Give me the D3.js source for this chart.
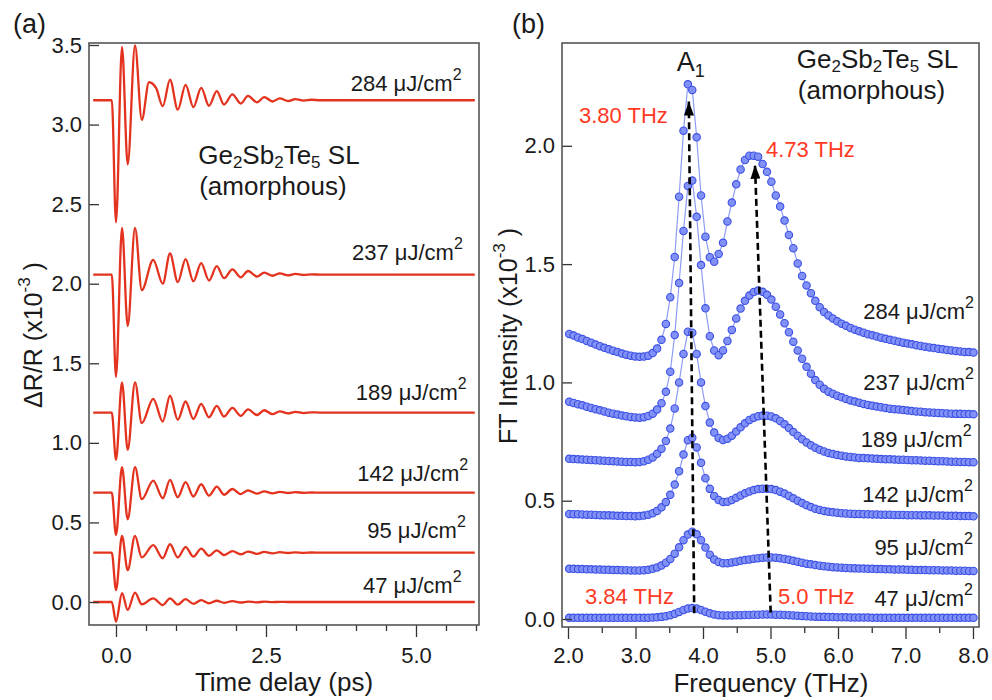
<!DOCTYPE html>
<html>
<head>
<meta charset="utf-8">
<script src="https://cdn.jsdelivr.net/npm/d3@7"></script>
<style>
  body { margin: 0; background: #fff; }
  svg { font-family: "Liberation Sans", Arial, Helvetica, sans-serif; }
</style>
</head>
<body>
<script>
// ---------- panel (a): time-domain traces (extrema) ----------
const fluences = ["284", "237", "189", "142", "95", "47"];

const time284 = [-0.38, -0.07, 0, 0.1, 0.195, 0.317, 0.43, 0.55, 0.667, 0.78, 0.9, 1.03, 1.16, 1.29, 1.42, 1.55,
  1.68, 1.8, 1.94, 2.08, 2.2, 2.35, 2.47, 2.61, 2.73, 2.87, 2.99, 3.13, 3.26, 3.4, 5.98];
const timeA = [-0.38, -0.07, 0, 0.1, 0.195, 0.317, 0.43, 0.62, 0.78, 0.9, 1.03, 1.16, 1.29, 1.42, 1.55,
  1.68, 1.8, 1.94, 2.08, 2.2, 2.35, 2.47, 2.61, 2.73, 2.87, 2.99, 3.13, 3.26, 3.4, 5.98];

const dR284 = [3.153, 3.153, 2.386, 3.488, 2.75, 3.497, 3.03, 3.266, 3.23, 3.115, 3.283, 3.094, 3.25, 3.11, 3.23, 3.118,
  3.21, 3.126, 3.19, 3.132, 3.18, 3.14, 3.173, 3.145, 3.165, 3.148, 3.16, 3.151, 3.156, 3.153, 3.153];
const dR237 = [2.057, 2.057, 1.415, 2.35, 1.735, 2.35, 1.96, 2.15, 2.0, 2.19, 2.01, 2.155, 2.015, 2.13, 2.02,
  2.11, 2.035, 2.09, 2.04, 2.08, 2.045, 2.07, 2.05, 2.065, 2.052, 2.062, 2.055, 2.059, 2.057, 2.057];
const dR189 = [1.19, 1.19, 0.893, 1.38, 0.956, 1.38, 1.124, 1.277, 1.134, 1.296, 1.145, 1.26, 1.15, 1.245, 1.16,
  1.233, 1.165, 1.22, 1.17, 1.21, 1.175, 1.205, 1.18, 1.198, 1.185, 1.195, 1.187, 1.192, 1.19, 1.19];
const dR142 = [0.687, 0.687, 0.421, 0.847, 0.52, 0.847, 0.646, 0.763, 0.652, 0.767, 0.658, 0.753, 0.663, 0.74, 0.668,
  0.725, 0.674, 0.71, 0.678, 0.702, 0.681, 0.695, 0.683, 0.692, 0.685, 0.69, 0.686, 0.688, 0.687, 0.687];
const dR95 = [0.31, 0.31, 0.075, 0.415, 0.2, 0.415, 0.28, 0.358, 0.275, 0.363, 0.28, 0.345, 0.285, 0.335, 0.29,
  0.325, 0.295, 0.32, 0.3, 0.317, 0.303, 0.315, 0.306, 0.313, 0.308, 0.312, 0.309, 0.311, 0.31, 0.31];
const dR47 = [0, 0, -0.124, 0.055, -0.05, 0.059, -0.015, 0.023, -0.019, 0.023, -0.016, 0.018, -0.012, 0.012, -0.008,
  0.008, -0.005, 0.005, -0.003, 0.003, -0.002, 0.002, -0.001, 0.001, 0, 0, 0, 0, 0, 0];

const yTicksA = [0, 0.5, 1.0, 1.5, 2.0, 2.5, 3.0, 3.5];
const xTicksA = [0, 2.5, 5.0];
const xMinorA = [0.5, 1.0, 1.5, 2.0, 3.0, 3.5, 4.0, 4.5, 5.5, 6.0];

// ---------- panel (b): FT spectra ----------
const freq = [2.018, 2.083, 2.148, 2.213, 2.279, 2.344, 2.409, 2.474, 2.539, 2.604,
  2.669, 2.734, 2.799, 2.864, 2.930, 2.995, 3.060, 3.125, 3.190, 3.255,
  3.320, 3.385, 3.450, 3.515, 3.581, 3.646, 3.711, 3.776, 3.841, 3.906,
  3.971, 4.036, 4.101, 4.166, 4.232, 4.297, 4.362, 4.427, 4.492, 4.557,
  4.622, 4.687, 4.752, 4.817, 4.883, 4.948, 5.013, 5.078, 5.143, 5.208,
  5.273, 5.338, 5.403, 5.468, 5.534, 5.599, 5.664, 5.729, 5.794, 5.859,
  5.924, 5.989, 6.054, 6.119, 6.185, 6.250, 6.315, 6.380, 6.445, 6.510,
  6.575, 6.640, 6.705, 6.770, 6.836, 6.901, 6.966, 7.031, 7.096, 7.161,
  7.226, 7.291, 7.356, 7.421, 7.487, 7.552, 7.617, 7.682, 7.747, 7.812,
  7.877, 7.942, 8.007];

const ft284 = [1.205, 1.198, 1.190, 1.183, 1.175, 1.168, 1.160, 1.153, 1.146, 1.140,
  1.134, 1.128, 1.122, 1.117, 1.113, 1.110, 1.108, 1.109, 1.113, 1.124,
  1.143, 1.180, 1.247, 1.360, 1.530, 1.785, 2.064, 2.260, 2.236, 2.036,
  1.790, 1.616, 1.529, 1.510, 1.543, 1.590, 1.680, 1.760, 1.837, 1.900,
  1.940, 1.958, 1.958, 1.954, 1.923, 1.890, 1.848, 1.790, 1.743, 1.684,
  1.623, 1.567, 1.503, 1.450, 1.410, 1.377, 1.345, 1.318, 1.298, 1.283,
  1.270, 1.258, 1.248, 1.239, 1.230, 1.223, 1.216, 1.210, 1.204, 1.199,
  1.194, 1.189, 1.184, 1.180, 1.176, 1.172, 1.168, 1.164, 1.161, 1.157,
  1.154, 1.151, 1.148, 1.145, 1.142, 1.140, 1.137, 1.135, 1.133, 1.131,
  1.129, 1.128, 1.126];
const ft237 = [0.918, 0.913, 0.908, 0.903, 0.897, 0.892, 0.887, 0.882, 0.877, 0.872,
  0.868, 0.864, 0.860, 0.857, 0.854, 0.852, 0.851, 0.853, 0.858, 0.868,
  0.885, 0.912, 0.960, 1.045, 1.200, 1.420, 1.640, 1.830, 1.853, 1.700,
  1.496, 1.313, 1.195, 1.135, 1.115, 1.135, 1.175, 1.222, 1.270, 1.312,
  1.345, 1.367, 1.382, 1.388, 1.383, 1.370, 1.350, 1.320, 1.287, 1.250,
  1.212, 1.172, 1.135, 1.100, 1.066, 1.037, 1.010, 0.990, 0.973, 0.961,
  0.952, 0.944, 0.937, 0.930, 0.924, 0.919, 0.914, 0.909, 0.905, 0.901,
  0.898, 0.895, 0.892, 0.889, 0.887, 0.885, 0.883, 0.881, 0.879, 0.877,
  0.876, 0.874, 0.873, 0.872, 0.871, 0.870, 0.869, 0.868, 0.867, 0.867,
  0.866, 0.866, 0.865];
const ft189 = [0.677, 0.676, 0.675, 0.674, 0.673, 0.672, 0.671, 0.670, 0.669, 0.668,
  0.667, 0.666, 0.665, 0.664, 0.664, 0.663, 0.664, 0.667, 0.673, 0.683,
  0.698, 0.720, 0.752, 0.805, 0.890, 1.000, 1.120, 1.214, 1.210, 1.120,
  1.000, 0.900, 0.830, 0.788, 0.765, 0.757, 0.762, 0.775, 0.792, 0.810,
  0.827, 0.841, 0.851, 0.857, 0.860, 0.859, 0.856, 0.848, 0.837, 0.823,
  0.807, 0.790, 0.775, 0.760, 0.746, 0.734, 0.724, 0.715, 0.708, 0.702,
  0.697, 0.693, 0.690, 0.687, 0.685, 0.683, 0.681, 0.680, 0.679, 0.678,
  0.677, 0.676, 0.675, 0.675, 0.674, 0.673, 0.673, 0.672, 0.671, 0.671,
  0.670, 0.669, 0.669, 0.668, 0.667, 0.667, 0.666, 0.665, 0.665, 0.664,
  0.664, 0.663, 0.663];
const ft142 = [0.444, 0.443, 0.443, 0.442, 0.441, 0.441, 0.440, 0.439, 0.438, 0.438,
  0.437, 0.436, 0.436, 0.435, 0.435, 0.434, 0.435, 0.437, 0.441, 0.447,
  0.457, 0.472, 0.494, 0.525, 0.568, 0.625, 0.695, 0.756, 0.766, 0.725,
  0.660, 0.595, 0.550, 0.520, 0.503, 0.495, 0.496, 0.503, 0.512, 0.522,
  0.531, 0.539, 0.545, 0.549, 0.551, 0.551, 0.549, 0.545, 0.538, 0.530,
  0.520, 0.510, 0.500, 0.490, 0.481, 0.473, 0.466, 0.461, 0.457, 0.453,
  0.451, 0.449, 0.447, 0.446, 0.445, 0.444, 0.444, 0.443, 0.443, 0.442,
  0.442, 0.441, 0.441, 0.441, 0.440, 0.440, 0.440, 0.439, 0.439, 0.439,
  0.438, 0.438, 0.438, 0.437, 0.437, 0.437, 0.436, 0.436, 0.436, 0.435,
  0.435, 0.435, 0.434];
const ft95 = [0.212, 0.212, 0.211, 0.211, 0.210, 0.210, 0.209, 0.209, 0.208, 0.208,
  0.207, 0.207, 0.206, 0.206, 0.205, 0.205, 0.205, 0.206, 0.208, 0.212,
  0.218, 0.226, 0.238, 0.254, 0.276, 0.303, 0.333, 0.357, 0.369, 0.358,
  0.333, 0.302, 0.272, 0.252, 0.241, 0.236, 0.236, 0.239, 0.242, 0.246,
  0.249, 0.252, 0.255, 0.257, 0.259, 0.260, 0.260, 0.259, 0.257, 0.254,
  0.250, 0.246, 0.242, 0.238, 0.234, 0.231, 0.228, 0.225, 0.223, 0.221,
  0.219, 0.218, 0.217, 0.216, 0.215, 0.214, 0.213, 0.213, 0.212, 0.212,
  0.211, 0.211, 0.210, 0.210, 0.209, 0.209, 0.209, 0.208, 0.208, 0.207,
  0.207, 0.207, 0.206, 0.206, 0.206, 0.205, 0.205, 0.205, 0.204, 0.204,
  0.204, 0.203, 0.203];
const ft47 = [0.005, 0.005, 0.005, 0.005, 0.005, 0.005, 0.005, 0.005, 0.005, 0.005,
  0.005, 0.005, 0.005, 0.005, 0.005, 0.005, 0.005, 0.005, 0.005, 0.006,
  0.007, 0.009, 0.012, 0.016, 0.022, 0.030, 0.038, 0.044, 0.046, 0.044,
  0.038, 0.031, 0.024, 0.019, 0.016, 0.015, 0.015, 0.015, 0.016, 0.016,
  0.017, 0.017, 0.018, 0.018, 0.019, 0.019, 0.019, 0.018, 0.018, 0.017,
  0.016, 0.015, 0.014, 0.013, 0.012, 0.011, 0.010, 0.009, 0.009, 0.008,
  0.008, 0.007, 0.007, 0.007, 0.006, 0.006, 0.006, 0.006, 0.006, 0.005,
  0.005, 0.005, 0.005, 0.005, 0.005, 0.005, 0.005, 0.005, 0.005, 0.005,
  0.005, 0.005, 0.005, 0.005, 0.005, 0.005, 0.005, 0.005, 0.005, 0.005,
  0.005, 0.005, 0.005];

const yTicksB = [0, 0.5, 1.0, 1.5, 2.0];
const xTicksB = [2, 3, 4, 5, 6, 7, 8];
const xMinorB = [2.5, 3.5, 4.5, 5.5, 6.5, 7.5];

// peak-shift arrows: [freq, value] from bottom to top
const arrowFrom = [[3.87, 0.024], [5.003, 0.027]];
const arrowTo = [[3.79, 2.187], [4.77, 1.92]];
const peakLabels = ["3.80 THz", "4.73 THz", "3.84 THz", "5.0 THz"];

// annotation anchors in data units
const labelPosA = [[5.76, 3.211], [5.78, 2.149], [5.845, 1.269], [5.87, 0.760], [5.83, 0.400], [5.76, 0.058]];
const labelPosB = [[8.015, 1.268], [8.015, 0.968], [7.98, 0.727], [8.0, 0.495], [8.0, 0.270], [8.0, 0.055]];
const peakLabelPos = [[2.163, 2.097], [4.933, 1.953], [2.252, 0.063], [5.111, 0.063]];

// ---------- drawing ----------
const svg = d3.select("body").append("svg").attr("width", 992).attr("height", 700);
const RED = "#e3321e", TXTRED = "#ff3a24", INK = "#1a1a1a";

const xA = d3.scaleLinear().domain([-0.45, 6.05]).range([89, 479]);
const yA = d3.scaleLinear().domain([-0.1445, 3.5126]).range([625, 43]);
const xB = d3.scaleLinear().domain([1.911, 8.089]).range([562, 979]);
const yB = d3.scaleLinear().domain([-0.0338, 2.4345]).range([627, 43]);

function styleAxis(g) {
  g.select(".domain").remove();
  g.selectAll(".tick line").attr("stroke", "#333").attr("stroke-width", 1.3);
  g.selectAll(".tick text").attr("font-size", 22).attr("fill", INK)
    .style("font-family", "'Liberation Sans', Arial, sans-serif");
}

function chemLabel(g, x, y, gap) {
  const t = g.append("text").attr("x", x).attr("y", y).attr("font-size", 26).attr("fill", INK);
  t.append("tspan").text("Ge");
  t.append("tspan").attr("dy", 4).attr("font-size", 17).text("2");
  t.append("tspan").attr("dy", -4).text("Sb");
  t.append("tspan").attr("dy", 4).attr("font-size", 17).text("2");
  t.append("tspan").attr("dy", -4).text("Te");
  t.append("tspan").attr("dy", 4).attr("font-size", 17).text("5");
  t.append("tspan").attr("dy", -4).text(" SL");
  g.append("text").attr("x", x + 1).attr("y", y + gap).attr("font-size", 26).attr("fill", INK).text("(amorphous)");
}

function fluenceLabel(g, x, y, f) {
  const t = g.append("text").attr("x", x).attr("y", y).attr("text-anchor", "end")
    .attr("font-size", 22).attr("fill", INK);
  t.append("tspan").text(f + " \u03bcJ/cm");
  t.append("tspan").attr("dy", -11).attr("font-size", 16).text("2");
}

function yTitle(g, x, y, main) {
  const t = g.append("text").attr("transform", `translate(${x},${y}) rotate(-90)`)
    .attr("text-anchor", "middle").attr("font-size", 25).attr("fill", INK);
  t.append("tspan").text(main + " (x10");
  t.append("tspan").attr("dy", -12).attr("font-size", 17).text("-3");
  t.append("tspan").attr("dy", 12).text(" )");
}

// ----- panel (a)
const gA = svg.append("g");
const tracesA = [[time284, dR284], [timeA, dR237], [timeA, dR189], [timeA, dR142], [timeA, dR95], [timeA, dR47]];
const lineA = d3.line().x(d => xA(d[0])).y(d => yA(d[1])).curve(d3.curveMonotoneX);
tracesA.forEach(([t, v]) => {
  gA.append("path").datum(d3.zip(t, v)).attr("d", lineA)
    .attr("fill", "none").attr("stroke", RED).attr("stroke-width", 2.3).attr("stroke-linejoin", "round");
});

gA.append("g").attr("transform", "translate(89,0)")
  .call(d3.axisLeft(yA).tickValues(yTicksA).tickSize(-10).tickPadding(7).tickFormat(d3.format(".1f")))
  .call(styleAxis);
gA.append("g").attr("transform", "translate(0,625)")
  .call(d3.axisBottom(xA).tickValues(xTicksA).tickSize(12).tickPadding(10).tickFormat(d3.format(".1f")))
  .call(styleAxis);
gA.append("g").attr("transform", "translate(0,625)")
  .call(d3.axisBottom(xA).tickValues(xMinorA).tickSize(6).tickFormat(""))
  .call(styleAxis);
gA.append("rect").attr("x", 89).attr("y", 43).attr("width", 390).attr("height", 582)
  .attr("fill", "none").attr("stroke", "#555").attr("stroke-width", 1.6);

fluences.forEach((f, i) => fluenceLabel(gA, xA(labelPosA[i][0]), yA(labelPosA[i][1]), f));
chemLabel(gA, xA(1.37), yA(2.75), 31);
yTitle(gA, 42, 335, "\u0394R/R");
gA.append("text").attr("x", 284).attr("y", 691).attr("text-anchor", "middle")
  .attr("font-size", 26).attr("fill", INK).text("Time delay (ps)");
gA.append("text").attr("x", 13).attr("y", 33).attr("font-size", 27).attr("fill", INK).text("(a)");

// ----- panel (b)
const gB = svg.append("g");
const spectra = [ft284, ft237, ft189, ft142, ft95, ft47];
const lineB = d3.line().x(d => xB(d[0])).y(d => yB(d[1]));
spectra.forEach(v => {
  const pts = d3.zip(freq, v);
  gB.append("path").datum(pts).attr("d", lineB)
    .attr("fill", "none").attr("stroke", "#8e9cf4").attr("stroke-width", 1.2);
  gB.append("g").selectAll("circle").data(pts).join("circle")
    .attr("cx", d => xB(d[0])).attr("cy", d => yB(d[1])).attr("r", 3.7)
    .attr("fill", "#8191f6").attr("stroke", "#3b4fe4").attr("stroke-width", 1.1);
});

// dashed arrows
svg.append("defs").append("marker").attr("id", "arr")
  .attr("viewBox", "0 -5 14 10").attr("refX", 14).attr("refY", 0)
  .attr("markerWidth", 14).attr("markerHeight", 10).attr("markerUnits", "userSpaceOnUse")
  .attr("orient", "auto")
  .append("path").attr("d", "M0,-5L14,0L0,5Z").attr("fill", "#000");
arrowFrom.forEach((p, i) => {
  gB.append("line")
    .attr("x1", xB(p[0])).attr("y1", yB(p[1]))
    .attr("x2", xB(arrowTo[i][0])).attr("y2", yB(arrowTo[i][1]))
    .attr("stroke", "#000").attr("stroke-width", 2.6).attr("stroke-dasharray", "7,4")
    .attr("marker-end", "url(#arr)");
});

gB.append("g").attr("transform", "translate(562,0)")
  .call(d3.axisLeft(yB).tickValues(yTicksB).tickSize(-10).tickPadding(7).tickFormat(d3.format(".1f")))
  .call(styleAxis);
gB.append("g").attr("transform", "translate(0,627)")
  .call(d3.axisBottom(xB).tickValues(xTicksB).tickSize(12).tickPadding(8).tickFormat(d3.format(".1f")))
  .call(styleAxis);
gB.append("g").attr("transform", "translate(0,627)")
  .call(d3.axisBottom(xB).tickValues(xMinorB).tickSize(6).tickFormat(""))
  .call(styleAxis);
gB.append("rect").attr("x", 562).attr("y", 43).attr("width", 417).attr("height", 584)
  .attr("fill", "none").attr("stroke", "#555").attr("stroke-width", 1.6);

fluences.forEach((f, i) => fluenceLabel(gB, xB(labelPosB[i][0]), yB(labelPosB[i][1]), f));
peakLabels.forEach((s, i) => {
  gB.append("text").attr("x", xB(peakLabelPos[i][0])).attr("y", yB(peakLabelPos[i][1]))
    .attr("font-size", 22).attr("fill", TXTRED).text(s);
});
chemLabel(gB, xB(5.39), yB(2.33), 31);
const a1 = gB.append("text").attr("x", xB(3.61)).attr("y", yB(2.317)).attr("font-size", 27).attr("fill", INK);
a1.append("tspan").text("A");
a1.append("tspan").attr("dy", 6).attr("font-size", 18).text("1");

yTitle(gB, 517, 336, "FT Intensity");
gB.append("text").attr("x", 771).attr("y", 692).attr("text-anchor", "middle")
  .attr("font-size", 26).attr("fill", INK).text("Frequency (THz)");
gB.append("text").attr("x", 512).attr("y", 33).attr("font-size", 27).attr("fill", INK).text("(b)");
</script>
</body>
</html>
